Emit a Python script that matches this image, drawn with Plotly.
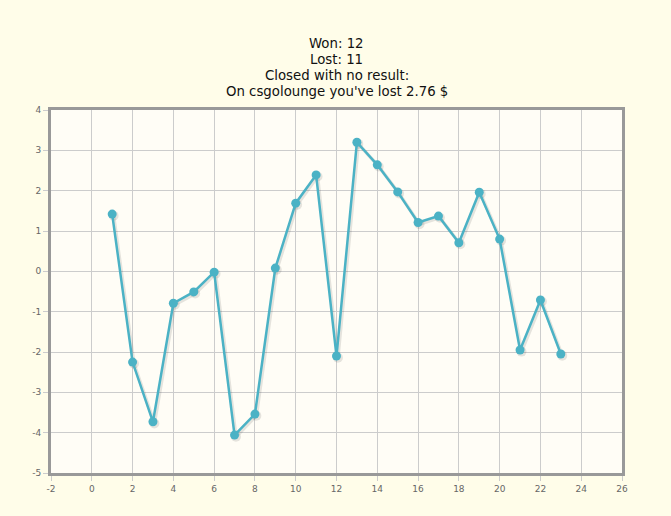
import plotly.graph_objects as go

games = list(range(1, 24))
profit = [1.42, -2.25, -3.73, -0.79, -0.51, -0.02, -4.06, -3.54, 0.08, 1.69, 2.39,
          -2.10, 3.20, 2.64, 1.97, 1.21, 1.37, 0.71, 1.96, 0.80, -1.95, -0.71, -2.05]
title_lines = ["Won: 12", "Lost: 11", "Closed with no result:", "On csgolounge you've lost 2.76 $"]
x_ticks = [-2, 0, 2, 4, 6, 8, 10, 12, 14, 16, 18, 20, 22, 24, 26]
x_labels = ["-2", "0", "2", "4", "6", "8", "10", "12", "14", "16", "18", "20", "22", "24", "26"]
y_ticks = [-5, -4, -3, -2, -1, 0, 1, 2, 3, 4]
y_labels = ["-5", "-4", "-3", "-2", "-1", "0", "1", "2", "3", "4"]

fig = go.Figure()
# soft shadow (offset slightly right/down, as jqPlot draws it)
fig.add_trace(go.Scatter(x=[g + 0.07 for g in games], y=[p - 0.04 for p in profit],
                         mode="lines+markers", hoverinfo="skip",
                         line=dict(color="rgba(0,0,0,0.10)", width=3.5),
                         marker=dict(size=10, color="rgba(0,0,0,0.10)")))
fig.add_trace(go.Scatter(x=games, y=profit, mode="lines+markers",
                         line=dict(color="#4bb2c5", width=2.5),
                         marker=dict(size=9, color="#4bb2c5")))

for i, t in enumerate(title_lines):
    fig.add_annotation(text=t, xref="paper", yref="paper", x=0.5, xanchor="center",
                       y=1, yshift=67 - 16 * i, yanchor="middle", showarrow=False,
                       font=dict(family="DejaVu Sans", size=13.3, color="#111111"))

axis_common = dict(showgrid=True, gridcolor="#cccccc", gridwidth=1, zeroline=False,
                   showline=True, linecolor="#999999", linewidth=3, mirror=True,
                   ticks="outside", ticklen=5, tickcolor="#cccccc",
                   tickfont=dict(family="DejaVu Sans", size=9, color="#666666"))
fig.update_xaxes(range=[-2, 26], tickmode="array", tickvals=x_ticks, ticktext=x_labels, **axis_common)
fig.update_yaxes(range=[-5, 4], tickmode="array", tickvals=y_ticks, ticktext=y_labels, **axis_common)

fig.update_layout(width=671, height=516, showlegend=False,
                  paper_bgcolor="#fffde9", plot_bgcolor="#fffdf6",
                  margin=dict(l=51, r=49, t=110, b=43))
fig.write_html("out.html", config={"displayModeBar": False},
               post_script="document.body.style.margin='0';")
